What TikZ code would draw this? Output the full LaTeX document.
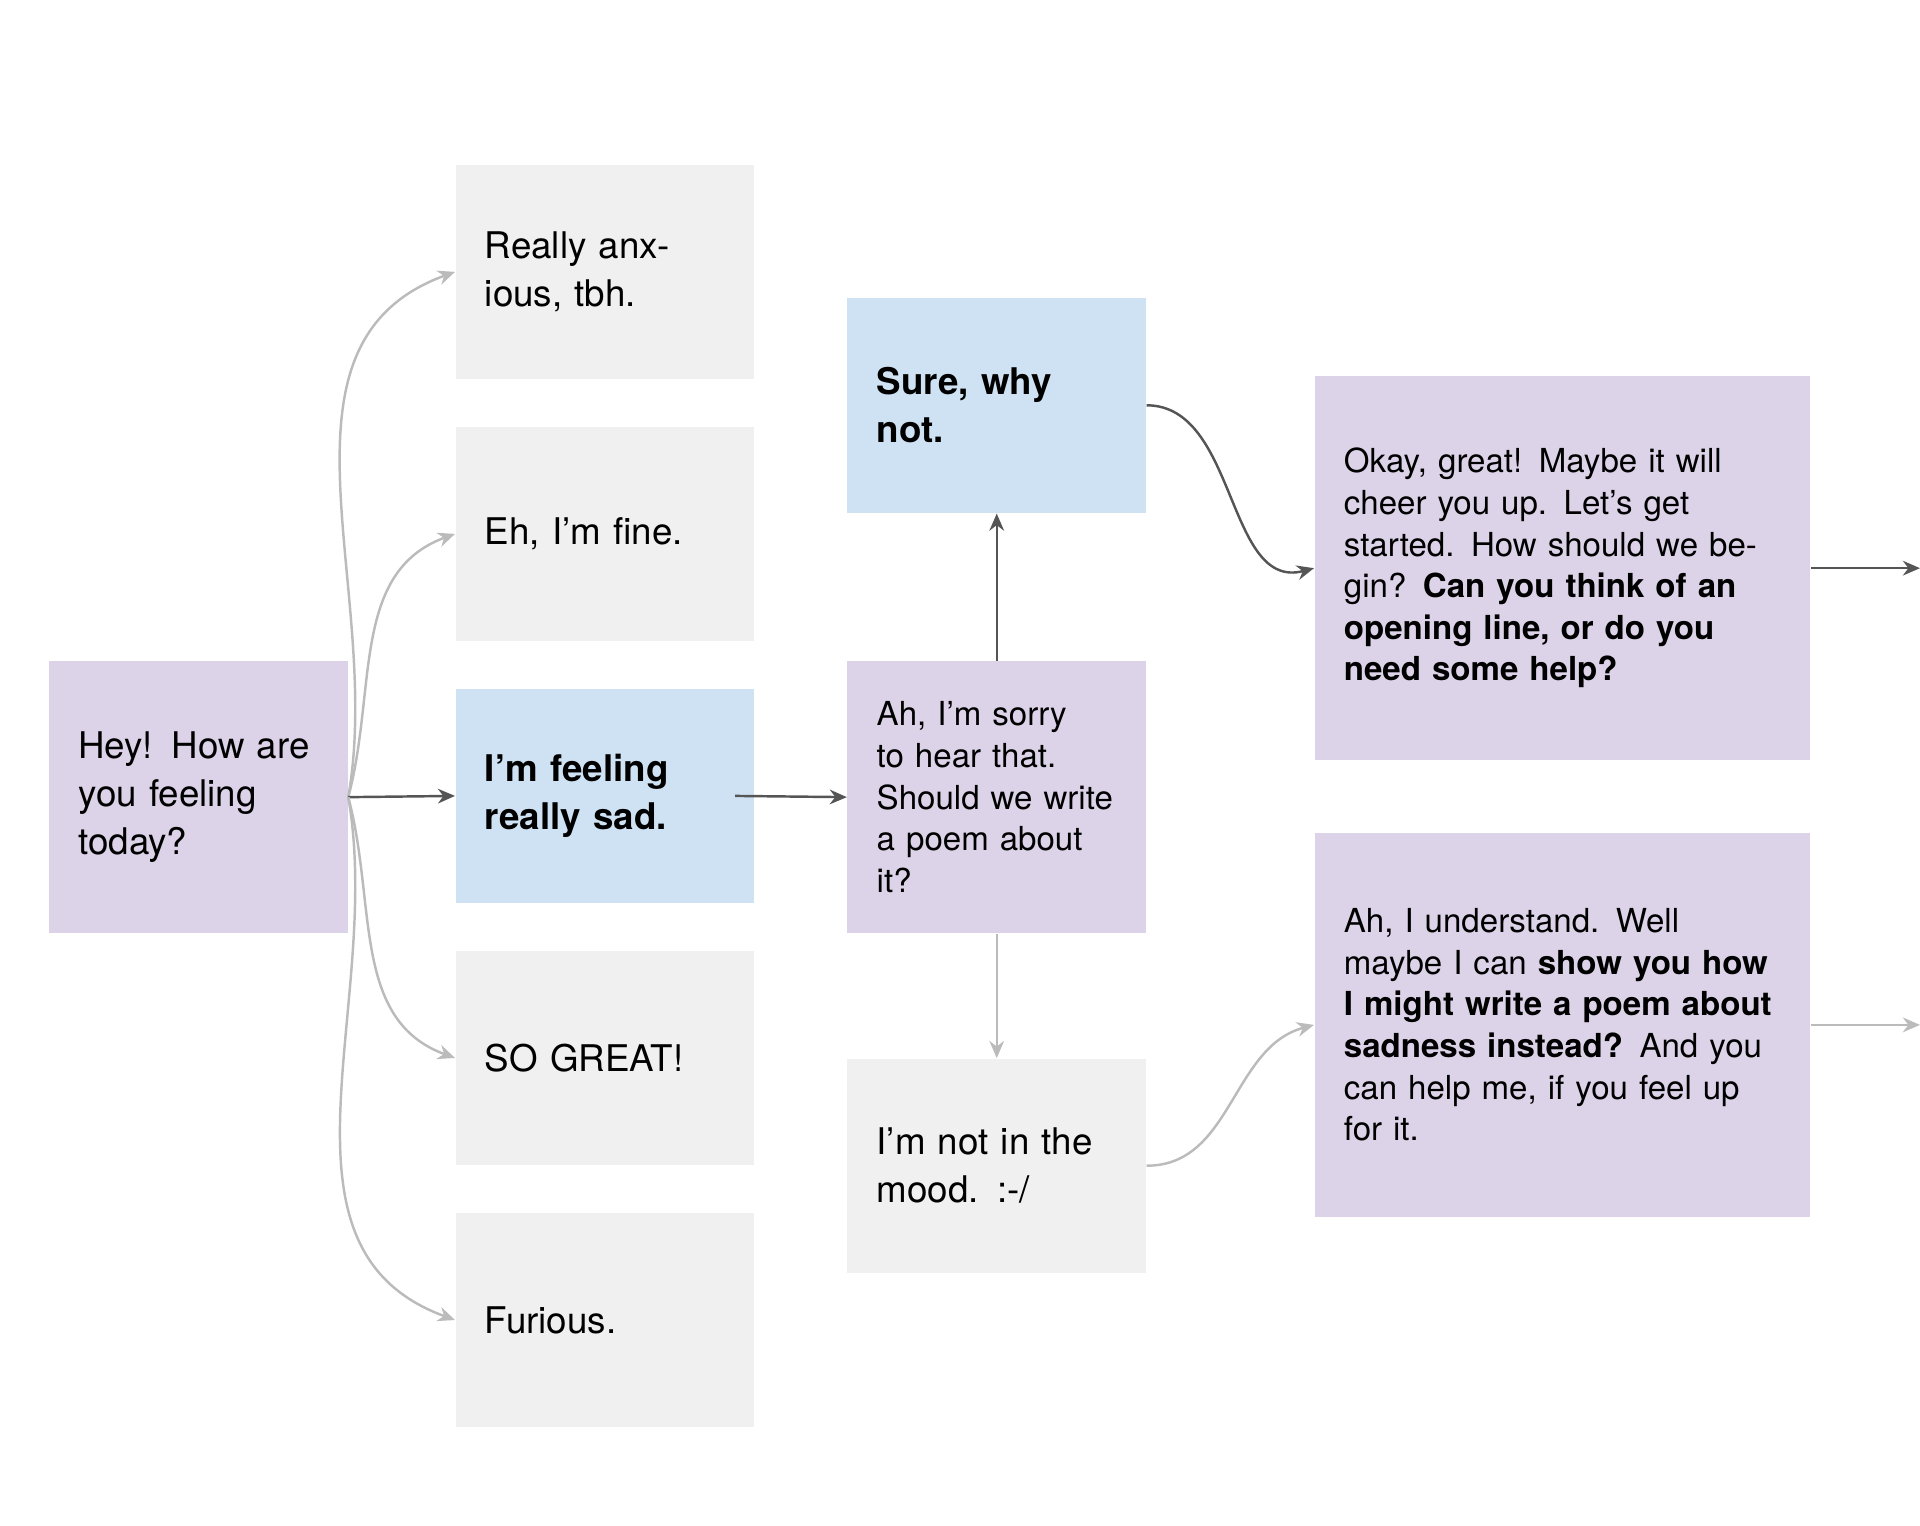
\documentclass[tikz,border=0pt]{standalone}
\usepackage{fontspec}
\setmainfont{TeX Gyre Heros}
\usetikzlibrary{arrows.meta,positioning}
\definecolor{lilac}{HTML}{DCD3E8}
\definecolor{sky}{HTML}{CFE2F3}
\definecolor{paper}{HTML}{F0F0F0}
\definecolor{darkline}{HTML}{555555}
\definecolor{lightline}{HTML}{BBBBBB}
\tikzset{
  card/.style={inner xsep=12pt, align=left, anchor=center, font=\fontsize{15}{19.5}\selectfont},
  small/.style={card, text width=98pt, minimum width=122pt},
  wide/.style={card, text width=178.5pt, minimum width=202.5pt, minimum height=157pt, fill=lilac, font=\fontsize{13.5}{17}\selectfont},
  dark/.style={draw=darkline, line width=1pt, -{Stealth[length=7pt,width=6pt]}},
  light/.style={draw=lightline, line width=1pt, -{Stealth[length=7pt,width=6pt]}},
}
\begin{document}
\begin{tikzpicture}[x=0.5pt,y=-0.5pt]
\useasboundingbox (0,0) rectangle (1568,1246);
% left column
\node[small, fill=lilac, minimum height=111pt] (hey) at (162,651) {Hey! How are you feeling today?};
\node[small, fill=paper, minimum height=87.5pt] (anx) at (494,222) {Really anxious, tbh.};
\node[small, fill=paper, minimum height=87.5pt] (fine) at (494,436) {Eh, I’m fine.};
\node[small, fill=sky, minimum height=87.5pt, font=\fontsize{15}{19.5}\selectfont\bfseries] (sad) at (494,650) {I’m feeling really sad.};
\node[small, fill=paper, minimum height=87.5pt] (great) at (494,864) {SO GREAT!};
\node[small, fill=paper, minimum height=87.5pt] (fur) at (494,1078) {Furious.};
% middle column
\node[small, fill=sky, minimum height=88pt, font=\fontsize{15}{19.5}\selectfont\bfseries] (sure) at (814,331) {Sure, why not.};
\node[small, fill=lilac, minimum height=111pt, font=\fontsize{13.5}{17}\selectfont] (sorry) at (814,651) {Ah, I’m sorry to hear that. Should we write a poem about it?};
\node[small, fill=paper, minimum height=87.5pt] (mood) at (814,952) {I’m not in the mood. :-/};
% right column
\node[wide] (okay) at (1276,464) {Okay, great! Maybe it will cheer you up. Let’s get started. How should we begin? \textbf{Can you think of an opening line, or do you need some help?}};
\node[wide] (under) at (1276,837) {Ah, I understand. Well maybe I can \textbf{show you how I might write a poem about sadness instead?} And you can help me, if you feel up for it.};
\coordinate (outA) at (1568,464);
\coordinate (outB) at (1568,837);
% connectors
\draw[light] (hey.east) to[out=80,in=200] (anx.west);
\draw[light] (hey.east) to[out=75,in=200] (fine.west);
\draw[dark] (hey.east) -- (sad.west);
\draw[light] (hey.east) to[out=-75,in=160] (great.west);
\draw[light] (hey.east) to[out=-80,in=160] (fur.west);
\draw[dark] ([xshift=-8pt]sad.east) -- (sorry.west);
\draw[dark] (sorry.north) -- (sure.south);
\draw[light] (sorry.south) -- (mood.north);
\draw[dark] (sure.east) to[out=0,in=195] (okay.west);
\draw[light] (mood.east) to[out=0,in=195] (under.west);
\draw[dark] (okay.east) -- (outA);
\draw[light] (under.east) -- (outB);
\end{tikzpicture}
\end{document}
